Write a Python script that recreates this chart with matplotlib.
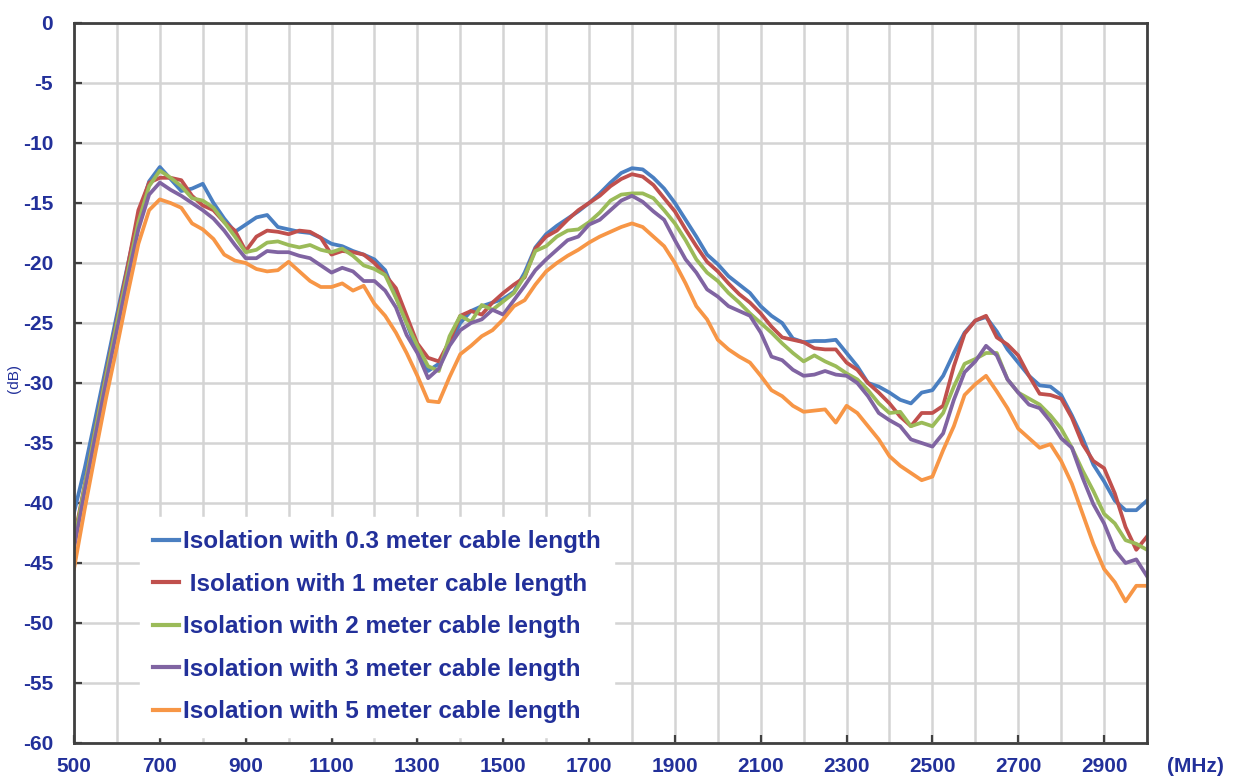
import numpy as np
import matplotlib.pyplot as plt
from matplotlib.ticker import MultipleLocator, FixedLocator

# Isolation vs. frequency for different cable lengths (25 MHz steps)
freq = np.arange(500, 3025, 25)

iso_03m = [
    -40.8, -37.1, -32.9, -28.6, -24.3, -20.2, -16.2, -13.2,
    -12.0, -13.0, -14.0, -13.8, -13.4, -15.0, -16.3, -17.4,
    -16.8, -16.2, -16.0, -17.0, -17.2, -17.4, -17.5, -17.9,
    -18.4, -18.6, -19.0, -19.3, -19.7, -20.6, -22.8, -25.0,
    -27.4, -29.0, -28.4, -26.7, -25.0, -24.0, -23.6, -23.3,
    -23.0, -22.4, -20.8, -18.7, -17.6, -16.9, -16.3, -15.7,
    -15.0, -14.2, -13.3, -12.5, -12.1, -12.2, -12.9, -13.8,
    -15.0, -16.4, -17.8, -19.3, -20.1, -21.1, -21.8, -22.5,
    -23.6, -24.4, -25.0, -26.3, -26.6, -26.5, -26.5, -26.4,
    -27.5, -28.6, -30.0, -30.3, -30.8, -31.4, -31.7, -30.8,
    -30.6, -29.4, -27.5, -25.8, -24.8, -24.5, -25.7, -27.2,
    -28.3, -29.4, -30.2, -30.3, -31.0, -32.7, -34.6, -36.8,
    -38.2, -39.8, -40.6, -40.6, -39.8,
]
iso_1m = [
    -43.0, -38.5, -33.8, -29.2, -24.8, -20.3, -15.6, -13.3,
    -12.9, -12.9, -13.1, -14.4, -15.2, -15.6, -16.6, -17.3,
    -19.0, -17.8, -17.3, -17.4, -17.6, -17.3, -17.4, -17.9,
    -19.3, -19.0, -19.1, -19.3, -20.0, -21.0, -22.1, -24.4,
    -26.7, -27.9, -28.2, -26.5, -24.4, -24.0, -24.3, -23.3,
    -22.5, -21.8, -21.2, -18.8, -17.8, -17.3, -16.4, -15.6,
    -15.0, -14.4, -13.6, -13.0, -12.6, -12.8, -13.5, -14.6,
    -15.7, -17.2, -18.6, -19.9, -20.7, -21.7, -22.6, -23.3,
    -24.2, -25.3, -26.2, -26.4, -26.6, -27.1, -27.2, -27.2,
    -28.3, -28.9, -30.0, -30.8, -31.7, -32.8, -33.6, -32.5,
    -32.5, -31.9, -28.6, -25.9, -24.8, -24.4, -26.2, -26.8,
    -27.7, -29.4, -30.9, -31.0, -31.3, -32.9, -35.1, -36.5,
    -37.1, -39.2, -42.0, -43.9, -42.8,
]
iso_2m = [
    -43.3, -38.6, -33.9, -29.4, -25.0, -20.8, -16.6, -13.6,
    -12.3, -12.9, -13.6, -14.6, -14.8, -15.4, -16.6, -17.8,
    -19.1, -18.9, -18.3, -18.2, -18.5, -18.7, -18.5, -18.9,
    -19.1, -18.8, -19.4, -20.2, -20.5, -21.0, -22.9, -25.0,
    -26.9, -28.6, -29.0, -26.1, -24.4, -24.9, -23.5, -23.9,
    -23.2, -22.5, -21.1, -19.0, -18.6, -17.8, -17.3, -17.2,
    -16.6, -15.8, -14.8, -14.3, -14.2, -14.2, -14.6, -15.6,
    -16.7, -18.1, -19.7, -20.8, -21.5, -22.5, -23.3, -24.2,
    -25.0, -25.8, -26.7, -27.5, -28.2, -27.7, -28.2, -28.6,
    -29.2, -29.7, -30.6, -31.7, -32.5, -32.4, -33.6, -33.3,
    -33.6, -32.5, -30.3, -28.4, -28.0, -27.5, -27.5, -29.7,
    -30.8, -31.3, -31.8, -32.7, -33.8, -35.4, -37.3, -39.0,
    -40.9, -41.7, -43.1, -43.4, -43.9,
]
iso_3m = [
    -43.8, -39.0, -34.4, -29.9, -25.6, -21.3, -17.2, -14.3,
    -13.3, -13.9, -14.4, -15.0, -15.6, -16.3, -17.3, -18.5,
    -19.6, -19.6, -19.0, -19.1, -19.1, -19.4, -19.6, -20.2,
    -20.8, -20.4, -20.7, -21.5, -21.5, -22.3, -23.7, -26.0,
    -27.5, -29.6, -28.8, -26.9, -25.6, -25.0, -24.7, -23.9,
    -24.3, -23.1, -21.9, -20.6, -19.7, -18.9, -18.1, -17.8,
    -16.8, -16.4, -15.6, -14.8, -14.4, -14.9, -15.7, -16.4,
    -18.1, -19.7, -20.8, -22.2, -22.8, -23.6, -24.0, -24.4,
    -25.8, -27.8, -28.1, -28.9, -29.4, -29.3, -29.0, -29.3,
    -29.4, -30.0, -31.1, -32.5, -33.1, -33.6, -34.7, -35.0,
    -35.3, -34.2, -31.4, -29.1, -28.2, -26.9, -27.7, -29.7,
    -30.8, -31.8, -32.1, -33.2, -34.6, -35.4, -37.9, -40.1,
    -41.7, -43.9, -45.0, -44.7, -46.1,
]
iso_5m = [
    -45.5, -40.5, -35.8, -31.2, -27.0, -22.6, -18.4, -15.6,
    -14.7, -15.0, -15.4, -16.7, -17.2, -18.0, -19.3, -19.8,
    -20.0, -20.5, -20.7, -20.6, -19.9, -20.7, -21.5, -22.0,
    -22.0, -21.7, -22.3, -21.9, -23.4, -24.4, -25.8, -27.5,
    -29.4, -31.5, -31.6, -29.5, -27.6, -26.9, -26.1, -25.6,
    -24.7, -23.6, -23.1, -21.8, -20.7, -20.0, -19.4, -18.9,
    -18.3, -17.8, -17.4, -17.0, -16.7, -17.0, -17.8, -18.6,
    -20.0, -21.7, -23.6, -24.7, -26.4, -27.2, -27.8, -28.3,
    -29.4, -30.6, -31.1, -31.9, -32.4, -32.3, -32.2, -33.3,
    -31.9, -32.5, -33.6, -34.7, -36.1, -36.9, -37.5, -38.1,
    -37.8, -35.6, -33.6, -31.0, -30.1, -29.4, -30.7, -32.1,
    -33.8, -34.6, -35.4, -35.1, -36.5, -38.4, -40.9, -43.4,
    -45.5, -46.6, -48.2, -46.9, -46.9,
]

series = [iso_03m, iso_1m, iso_2m, iso_3m, iso_5m]
labels = [
    "Isolation with 0.3 meter cable length",
    " Isolation with 1 meter cable length",
    "Isolation with 2 meter cable length",
    "Isolation with 3 meter cable length",
    "Isolation with 5 meter cable length",
]
colors = ["#4a7fc1", "#c0504d", "#9bbb59", "#8064a2", "#f79646"]
xtick_pos = [500, 700, 900, 1100, 1300, 1500, 1700, 1900, 2100, 2300, 2500, 2700, 2900]

txt_color = "#22309a"
plt.rcParams["font.family"] = ["Liberation Sans", "DejaVu Sans"]
plt.rcParams["axes.unicode_minus"] = False

W, H = 1235, 780
fig = plt.figure(figsize=(W / 100, H / 100), dpi=100)
ax = fig.add_axes([74 / W, 1 - 743 / H, 1073 / W, 720 / H])

for y, c, lab in zip(series, colors, labels):
    ax.plot(freq, y, color=c, lw=2.7, label=lab, solid_joinstyle="round")

ax.set_xlim(500, 3000)
ax.set_ylim(-60, 0)
ax.xaxis.set_major_locator(FixedLocator(xtick_pos))
ax.xaxis.set_minor_locator(MultipleLocator(100))
ax.yaxis.set_major_locator(MultipleLocator(5))
ax.grid(which="both", color="#d4d4d4", lw=1.8)
ax.set_axisbelow(True)

for s in ax.spines.values():
    s.set_color("#404040")
    s.set_linewidth(2.0)

ax.tick_params(axis="both", which="major", direction="in", length=6,
               width=1.6, color="#404040", labelsize=15, labelcolor=txt_color)
ax.tick_params(axis="y", pad=15, right=False)
ax.tick_params(axis="x", pad=10, top=False)
ax.tick_params(which="minor", length=0)
for t in ax.get_xticklabels() + ax.get_yticklabels():
    t.set_fontweight("bold")

fig.text(1195 / W, 1 - 766 / H, "(MHz)", ha="center", va="center",
         fontsize=15, fontweight="bold", color=txt_color)
fig.text(14 / W, 1 - 378 / H, "(dB)", ha="center", va="center",
         rotation=90, fontsize=11, color=txt_color)

leg = ax.legend(loc="upper left", bbox_to_anchor=((140 - 74) / 1073, (743 - 517) / 720),
                borderaxespad=0, frameon=True, fancybox=False, framealpha=1,
                facecolor="white", edgecolor="white", handlelength=1.05,
                handletextpad=0.15, labelspacing=0.8, borderpad=0.55,
                prop={"size": 17.5, "weight": "bold"}, labelcolor=txt_color)
for h in leg.get_lines():
    h.set_linewidth(3)

fig.savefig("out.png", dpi=100)
